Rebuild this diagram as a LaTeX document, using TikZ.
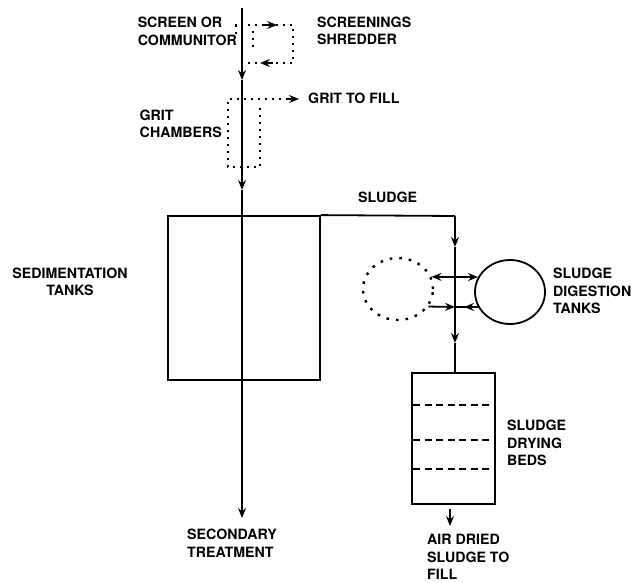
\documentclass[tikz,border=0pt]{standalone}
\usepackage{fontspec}
\setmainfont{TeX Gyre Heros}
\usetikzlibrary{arrows.meta,shapes.geometric}
\tikzset{
  lbl/.style={font=\bfseries\fontsize{14.2}{17.5}\selectfont, inner sep=0pt, align=left},
  flow/.style={line width=1.8pt},
  tip/.style={-{Stealth[length=10pt,width=8pt,inset=3.5pt]}},
  smalltip/.style={line width=1.4pt,-{Stealth[length=10pt,width=8pt,inset=3.5pt]}},
  dots/.style={line width=2.2pt, dash pattern=on 2.4pt off 4.6pt},
  bigdots/.style={line width=2.4pt, dash pattern=on 2.6pt off 7pt},
  bedline/.style={line width=2pt, dash pattern=on 7pt off 4.5pt},
}
\begin{document}
\begin{tikzpicture}[x=1pt,y=-1pt]
\useasboundingbox (0,0) rectangle (642,583);

% main line coordinates
\coordinate (top) at (242,8);
\coordinate (a1) at (242,80);
\coordinate (a2) at (242,190);
\coordinate (bot) at (242,518);

% sedimentation tank
\node[draw, flow, minimum width=152pt, minimum height=164pt, inner sep=0pt] (tank) at (244,298) {};

% main flow
\draw[flow,tip] (top) -- (a1);
\draw[flow,tip] (a1) -- (a2);
\draw[flow,tip] (a2) -- (bot);

% screen and shredder (dotted)
\draw[dots] (236,34) -- (236,25) -- (293,25) -- (293,63) -- (242,63);
\draw[dots] (253,31) -- (253,50);
\draw[smalltip] (264,25) -- (277,25);
\draw[smalltip] (273,63) -- (260,63);

% grit chambers (dotted)
\draw[dots] (260,108) -- (260,167) -- (228,167) -- (228,99) -- (288,99);
\draw[smalltip] (286,99) -- (299,99);

% sludge line
\coordinate (c1) at (455,216);
\coordinate (s1) at (455,247);
\coordinate (j1) at (455,277);
\coordinate (j2) at (455,307);
\coordinate (s2) at (455,343);

\node[draw, flow, ellipse, minimum width=70pt, minimum height=64pt, inner sep=0pt] (dig) at (510,292) {};
\node[draw, bigdots, ellipse, minimum width=70pt, minimum height=62pt, inner sep=0pt] (fut) at (398,289) {};
\node[draw, flow, minimum width=83pt, minimum height=131pt, inner sep=0pt] (beds) at (453.5,438.5) {};

\draw[flow] (tank.north east) -- (c1);
\draw[flow,tip] (c1) -- (s1);
\draw[flow] (s1) -- (j2);
\draw[flow,tip] (j2) -- (s2);
\draw[flow] (s2) -- (beds.north -| s2);

\draw[flow,tip] (j1) -- (dig.155);
\draw[flow,tip] (j1) -- (fut.20);
\draw[flow] (dig.205) -- (j2);
\draw[flow,tip] (dig.205) -- (464,307);
\draw[flow,tip] (fut.330) -- (j2);

% drying bed divisions
\draw[bedline] (413,405) -- (495,405);
\draw[bedline] (413,440) -- (495,440);
\draw[bedline] (413,469) -- (495,469);

% outflow from beds
\coordinate (o1) at (450,509);
\coordinate (o2) at (450,526);
\draw[flow,tip] (o1) -- (o2);

% labels
\node[lbl, anchor=east] (screen) at (237,31.5) {SCREEN OR\\COMMUNITOR};
\node[lbl, anchor=west] (shred) at (317,31) {SCREENINGS\\SHREDDER};
\node[lbl, anchor=west] (gritfill) at (308,98) {GRIT TO FILL};
\node[lbl, anchor=east] (grit) at (222,124) {GRIT\\CHAMBERS};
\node[lbl, align=center] (sedi) at (70,282) {SEDIMENTATION\\TANKS};
\node[lbl, anchor=west] (sludge) at (358,197) {SLUDGE};
\node[lbl, anchor=west] (digl) at (553,291) {SLUDGE\\DIGESTION\\TANKS};
\node[lbl, anchor=west] (bedl) at (507,443) {SLUDGE\\DRYING\\BEDS};
\node[lbl, anchor=west] (air) at (427,557) {AIR DRIED\\SLUDGE TO\\FILL};
\node[lbl, anchor=west] (sec) at (187,543) {SECONDARY\\TREATMENT};
\end{tikzpicture}
\end{document}
